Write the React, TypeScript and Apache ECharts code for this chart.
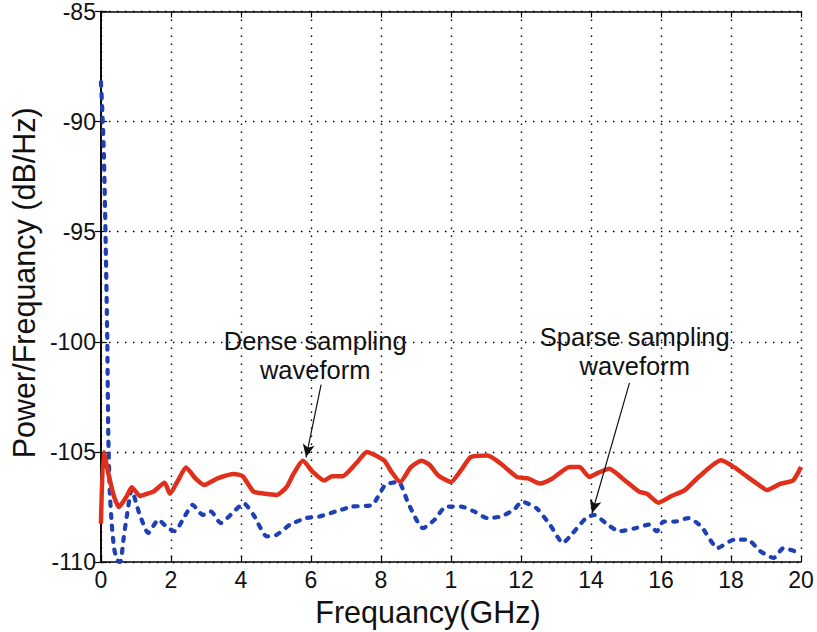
import React, { useEffect, useRef } from "react";
import * as echarts from "echarts";

// X tick labels as printed in the figure (the "10" tick reads "1")
const xTickLabels = ["0", "2", "4", "6", "8", "1", "12", "14", "16", "18", "20"];

// Dense sampling waveform (red, solid)
const denseFreq = [
  0, 0.08, 0.23, 0.37, 0.51, 0.74, 0.88, 1.12, 1.31, 1.5, 1.82, 1.97, 2.2, 2.43, 2.7, 2.95,
  3.33, 3.8, 4.05, 4.36, 4.7, 5.02, 5.3, 5.5, 5.77, 6.05, 6.38, 6.6, 6.9, 7.3, 7.6, 7.9,
  8.1, 8.3, 8.55, 8.85, 9.16, 9.4, 9.63, 10.0, 10.3, 10.57, 11.04, 11.4, 11.88, 12.2, 12.54,
  12.9, 13.39, 13.67, 13.95, 14.2, 14.52, 14.9, 15.37, 15.6, 15.93, 16.3, 16.68, 17.1,
  17.72, 18.1, 18.47, 18.8, 19.03, 19.4, 19.78, 20,
];
const denseValues = [
  -108.25, -105.0, -106.1, -107.0, -107.5, -107.0, -106.6, -107.0, -106.9, -106.8, -106.4,
  -106.9, -106.3, -105.7, -106.2, -106.5, -106.2, -106.0, -106.1, -106.8, -106.9, -106.95,
  -106.6, -106.0, -105.4, -105.9, -106.3, -106.1, -106.1, -105.5, -105.0, -105.2, -105.4,
  -105.9, -106.36, -105.7, -105.4, -105.6, -106.06, -106.36, -105.8, -105.23, -105.16,
  -105.5, -106.13, -106.2, -106.43, -106.2, -105.68, -105.68, -106.13, -105.95, -105.76,
  -106.2, -106.8, -106.9, -107.3, -107.0, -106.73, -106.1, -105.38, -105.7, -106.13, -106.5,
  -106.73, -106.45, -106.28, -105.68,
];

// Sparse sampling waveform (blue, dashed)
const sparseFreq = [
  0, 0.04, 0.085, 0.13, 0.18, 0.21, 0.25, 0.31, 0.38, 0.46, 0.55, 0.65, 0.74, 0.88, 1.02,
  1.12, 1.35, 1.64, 1.92, 2.11, 2.39, 2.62, 2.91, 3.14, 3.42, 3.8, 4.08, 4.36, 4.74, 5.02,
  5.4, 5.87, 6.24, 6.71, 7.18, 7.75, 8.12, 8.5, 8.78, 9.2, 9.53, 9.86, 10.29, 10.66, 11.04,
  11.42, 11.79, 12.03, 12.45, 12.83, 13.2, 13.48, 13.86, 14.1, 14.42, 14.8, 15.27, 15.65,
  15.88, 16.07, 16.4, 16.78, 17.15, 17.62, 18.09, 18.47, 18.84, 19.22, 19.5, 19.83, 20,
];
const sparseValues = [
  -88.2, -89.5, -91.5, -95.0, -99.8, -104.2, -106.7, -108.3, -109.4, -109.9, -110.0, -108.9,
  -107.9, -106.7, -107.4, -107.9, -108.68, -108.08, -108.46, -108.6, -107.93, -107.4,
  -107.86, -107.7, -108.23, -107.7, -107.33, -107.86, -108.83, -108.76, -108.3, -108.0,
  -107.93, -107.7, -107.48, -107.4, -106.5, -106.36, -107.33, -108.46, -108.08, -107.48,
  -107.48, -107.7, -108.0, -107.93, -107.63, -107.26, -107.56, -108.31, -109.13, -108.68,
  -108.0, -107.86, -108.23, -108.6, -108.46, -108.3, -108.6, -108.16, -108.16, -108.0,
  -108.38, -109.36, -108.98, -108.98, -109.51, -109.81, -109.36, -109.51, -109.55,
];

// Annotations: text anchor, arrow start, arrow end (data coordinates)
const denseLabel = { text: "Dense sampling\nwaveform", at: [6.12, -100.6] };
const denseArrow = [[6.29, -101.94], [5.86, -105.24]];
const sparseLabel = { text: "Sparse sampling\nwaveform", at: [15.25, -100.45] };
const sparseArrow = [[15.1, -101.86], [14.03, -107.78]];

const FONT = "'Liberation Sans', Arial, Helvetica, sans-serif";

export default function App() {
  const ref = useRef<HTMLDivElement>(null);

  useEffect(() => {
    if (!ref.current) return;
    const chart = echarts.init(ref.current, undefined, { renderer: "svg" });
    const dense = denseFreq.map((f, i) => [f, denseValues[i]]);
    const sparse = sparseFreq.map((f, i) => [f, sparseValues[i]]);

    const axisLine = { show: true, lineStyle: { color: "#000", width: 1.5 } };
    const tickIn = { show: true, inside: true, length: 6, lineStyle: { color: "#000", width: 1.2 } };
    const gridDots = { show: true, lineStyle: { color: "#000", width: 1.4, type: [1.5, 6.5] } };

    chart.setOption({
      animation: false,
      backgroundColor: "#fff",
      textStyle: { fontFamily: FONT },
      grid: { left: 92, right: 16, top: 10, bottom: 65, containLabel: false },
      xAxis: [
        {
          type: "value",
          min: 0,
          max: 20,
          interval: 2,
          position: "bottom",
          axisLine,
          axisTick: tickIn,
          splitLine: gridDots,
          axisLabel: {
            color: "#111",
            fontSize: 23,
            fontFamily: FONT,
            margin: 6,
            formatter: (v: number) => xTickLabels[Math.round(v / 2)] ?? "",
          },
          name: "Frequancy(GHz)",
          nameLocation: "middle",
          nameGap: 20,
          nameTextStyle: { color: "#111", fontSize: 30.5, fontFamily: FONT, padding: [0, 46, 0, 0] },
        },
        {
          type: "value",
          min: 0,
          max: 20,
          interval: 2,
          position: "top",
          axisLine,
          axisTick: tickIn,
          splitLine: { show: false },
          axisLabel: { show: false },
        },
      ],
      yAxis: [
        {
          type: "value",
          min: -110,
          max: -85,
          interval: 5,
          position: "left",
          axisLine,
          axisTick: tickIn,
          splitLine: gridDots,
          axisLabel: { color: "#111", fontSize: 23, fontFamily: FONT, margin: 5 },
          name: "Power/Frequancy (dB/Hz)",
          nameLocation: "middle",
          nameGap: 54,
          nameTextStyle: { color: "#111", fontSize: 30.5, fontFamily: FONT, padding: [0, 0, 0, 8] },
        },
        {
          type: "value",
          min: -110,
          max: -85,
          interval: 5,
          position: "right",
          axisLine,
          axisTick: tickIn,
          splitLine: { show: false },
          axisLabel: { show: false },
        },
      ],
      series: [
        {
          name: "Sparse sampling waveform",
          type: "line",
          data: sparse,
          showSymbol: false,
          smooth: 0.2,
          clip: true,
          lineStyle: { color: "#1f3fb4", width: 4.2, type: [4, 8], cap: "round" },
          z: 3,
        },
        {
          name: "Dense sampling waveform",
          type: "line",
          data: dense,
          showSymbol: false,
          smooth: 0.2,
          clip: true,
          lineStyle: { color: "#e0301c", width: 4.5 },
          z: 4,
          markLine: {
            silent: true,
            symbol: ["none", "arrow"],
            symbolSize: [9, 13],
            label: { show: false },
            lineStyle: { color: "#111", width: 1.2, type: "solid" },
            data: [
              [{ coord: denseArrow[0] }, { coord: denseArrow[1] }],
              [{ coord: sparseArrow[0] }, { coord: sparseArrow[1] }],
            ],
          },
          markPoint: {
            silent: true,
            symbol: "circle",
            symbolSize: 1,
            itemStyle: { color: "rgba(0,0,0,0)" },
            label: {
              show: true,
              position: "inside",
              color: "#111",
              fontSize: 25.5,
              lineHeight: 29,
              fontFamily: FONT,
              align: "center",
              verticalAlign: "middle",
              formatter: (p: any) => p.name,
            },
            data: [
              { name: denseLabel.text, coord: denseLabel.at },
              { name: sparseLabel.text, coord: sparseLabel.at },
            ],
          },
        },
      ],
    });

    return () => chart.dispose();
  }, []);

  return (
    <div
      ref={ref}
      style={{ position: "fixed", left: 0, top: 0, width: 817, height: 632, background: "#fff" }}
    />
  );
}
